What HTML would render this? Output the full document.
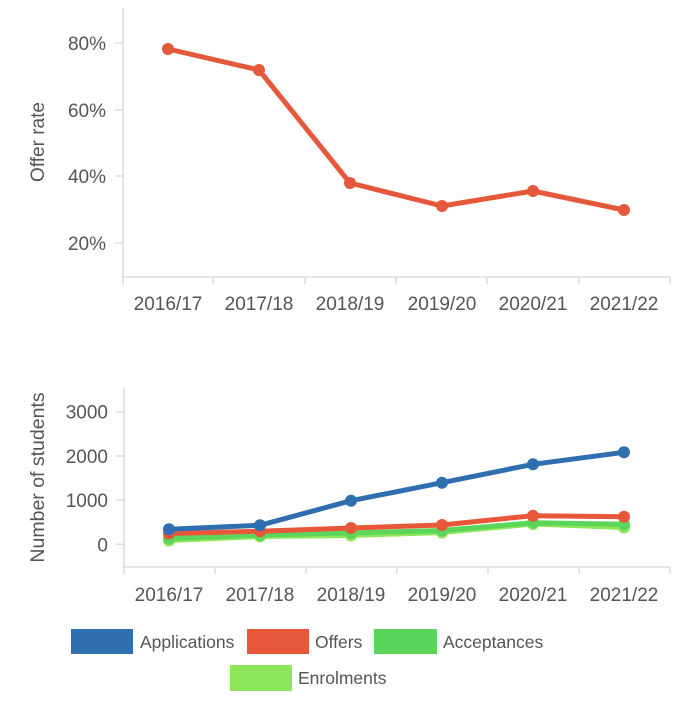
<!DOCTYPE html>
<html><head><meta charset="utf-8">
<style>
html,body{margin:0;padding:0;background:#fff;}
svg{display:block;}
text{font-family:"Liberation Sans",Arial,sans-serif;fill:#555;}
</style></head>
<body>
<svg width="700" height="716" viewBox="0 0 700 716" xmlns="http://www.w3.org/2000/svg">
<!-- Top chart axes -->
<g stroke="#dcdcdc" stroke-width="1.5" fill="none">
  <line x1="123" y1="8" x2="123" y2="285"/>
  <line x1="123" y1="277" x2="670" y2="277"/>
  <line x1="213" y1="277" x2="213" y2="284"/>
  <line x1="305" y1="277" x2="305" y2="284"/>
  <line x1="396" y1="277" x2="396" y2="284"/>
  <line x1="487" y1="277" x2="487" y2="284"/>
  <line x1="579" y1="277" x2="579" y2="284"/>
  <line x1="670" y1="277" x2="670" y2="284"/>
  <line x1="115" y1="43" x2="123" y2="43"/>
  <line x1="115" y1="110" x2="123" y2="110"/>
  <line x1="115" y1="176" x2="123" y2="176"/>
  <line x1="115" y1="243" x2="123" y2="243"/>
</g>
<g font-size="19" text-anchor="end">
  <text x="106" y="50">80%</text>
  <text x="106" y="117">60%</text>
  <text x="106" y="183">40%</text>
  <text x="106" y="250">20%</text>
</g>
<text font-size="19" text-anchor="middle" transform="translate(44,142) rotate(-90)">Offer rate</text>
<g font-size="19" text-anchor="middle">
  <text x="168" y="310">2016/17</text>
  <text x="259" y="310">2017/18</text>
  <text x="350" y="310">2018/19</text>
  <text x="442" y="310">2019/20</text>
  <text x="533" y="310">2020/21</text>
  <text x="624" y="310">2021/22</text>
</g>
<polyline points="168,49 259,70 350,183 442,206 533,191 624,210" fill="none" stroke="#e4583b" stroke-width="5" stroke-linejoin="round"/>
<g fill="#e4583b">
  <circle cx="168" cy="49" r="6"/><circle cx="259" cy="70" r="6"/><circle cx="350" cy="183" r="6"/>
  <circle cx="442" cy="206" r="6"/><circle cx="533" cy="191" r="6"/><circle cx="624" cy="210" r="6"/>
</g>

<!-- Bottom chart axes -->
<g stroke="#dcdcdc" stroke-width="1.5" fill="none">
  <line x1="124" y1="388" x2="124" y2="574"/>
  <line x1="124" y1="567" x2="670" y2="567"/>
  <line x1="215" y1="567" x2="215" y2="574"/>
  <line x1="306" y1="567" x2="306" y2="574"/>
  <line x1="397" y1="567" x2="397" y2="574"/>
  <line x1="488" y1="567" x2="488" y2="574"/>
  <line x1="579" y1="567" x2="579" y2="574"/>
  <line x1="670" y1="567" x2="670" y2="574"/>
  <line x1="116" y1="411.7" x2="124" y2="411.7"/>
  <line x1="116" y1="456" x2="124" y2="456"/>
  <line x1="116" y1="500" x2="124" y2="500"/>
  <line x1="116" y1="544.3" x2="124" y2="544.3"/>
</g>
<g font-size="19" text-anchor="end">
  <text x="108" y="418.7">3000</text>
  <text x="108" y="463">2000</text>
  <text x="108" y="507">1000</text>
  <text x="108" y="551.3">0</text>
</g>
<text font-size="19.5" text-anchor="middle" transform="translate(44,477.5) rotate(-90)">Number of students</text>
<g font-size="19" text-anchor="middle">
  <text x="169" y="601">2016/17</text>
  <text x="260" y="601">2017/18</text>
  <text x="351" y="601">2018/19</text>
  <text x="442" y="601">2019/20</text>
  <text x="533" y="601">2020/21</text>
  <text x="624" y="601">2021/22</text>
</g>
<!-- Enrolments -->
<polyline points="169,540.5 260,536.5 351,535.5 442,532.5 533,524 624,527.5" fill="none" stroke="#8ee65a" stroke-width="5" stroke-linejoin="round"/>
<g fill="#8ee65a">
  <circle cx="169" cy="540.5" r="6"/><circle cx="260" cy="536.5" r="6"/><circle cx="351" cy="535.5" r="6"/>
  <circle cx="442" cy="532.5" r="6"/><circle cx="533" cy="524" r="6"/><circle cx="624" cy="527.5" r="6"/>
</g>
<!-- Acceptances -->
<polyline points="169,538.5 260,535 351,533 442,530.5 533,522.7 624,524.3" fill="none" stroke="#5bd65b" stroke-width="5" stroke-linejoin="round"/>
<g fill="#5bd65b">
  <circle cx="169" cy="538.5" r="6"/><circle cx="260" cy="535" r="6"/><circle cx="351" cy="533" r="6"/>
  <circle cx="442" cy="530.5" r="6"/><circle cx="533" cy="522.7" r="6"/><circle cx="624" cy="524.3" r="6"/>
</g>
<!-- Offers -->
<polyline points="169,533.5 260,531.3 351,528 442,525 533,515.7 624,516.7" fill="none" stroke="#e8573a" stroke-width="5" stroke-linejoin="round"/>
<g fill="#e8573a">
  <circle cx="169" cy="533.5" r="6"/><circle cx="260" cy="531.3" r="6"/><circle cx="351" cy="528" r="6"/>
  <circle cx="442" cy="525" r="6"/><circle cx="533" cy="515.7" r="6"/><circle cx="624" cy="516.7" r="6"/>
</g>
<!-- Applications -->
<polyline points="169,529.3 260,525.3 351,500.7 442,482.7 533,464.3 624,452.3" fill="none" stroke="#2f6fb0" stroke-width="5" stroke-linejoin="round"/>
<g fill="#2f6fb0">
  <circle cx="169" cy="529.3" r="6"/><circle cx="260" cy="525.3" r="6"/><circle cx="351" cy="500.7" r="6"/>
  <circle cx="442" cy="482.7" r="6"/><circle cx="533" cy="464.3" r="6"/><circle cx="624" cy="452.3" r="6"/>
</g>

<!-- Legend -->
<rect x="71" y="629" width="62" height="25" fill="#2f6fb0"/>
<rect x="247" y="629" width="62" height="25" fill="#e8573a"/>
<rect x="374" y="629" width="63" height="25" fill="#5bd65b"/>
<rect x="230" y="665" width="62" height="26" fill="#8ee65a"/>
<g font-size="17.5">
  <text x="140" y="648">Applications</text>
  <text x="315" y="648">Offers</text>
  <text x="443" y="648">Acceptances</text>
  <text x="298" y="684">Enrolments</text>
</g>
</svg>
</body></html>
